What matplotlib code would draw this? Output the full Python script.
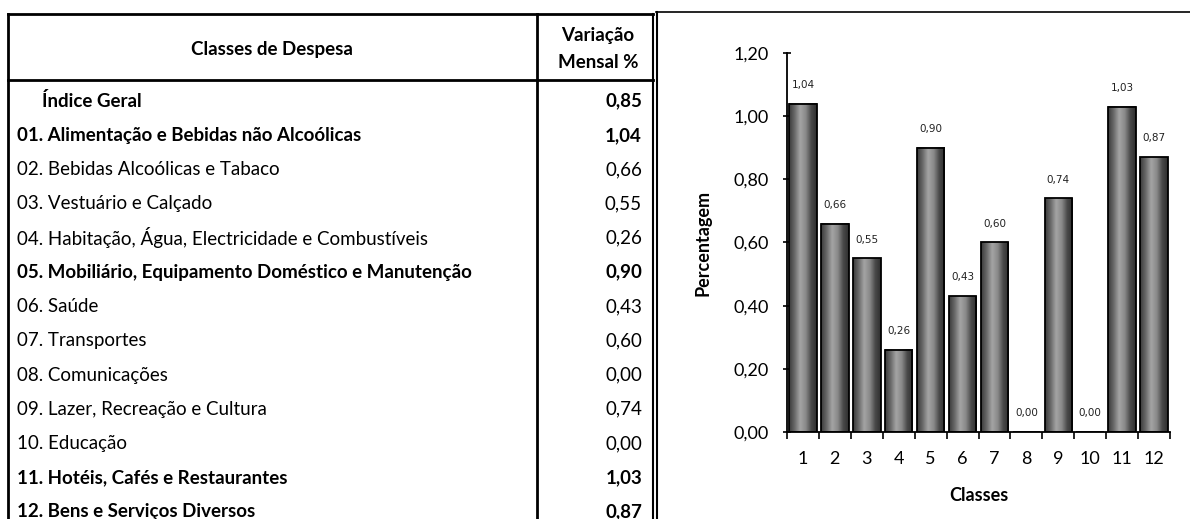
import numpy as np
import matplotlib
matplotlib.use('Agg')
import matplotlib.pyplot as plt
from matplotlib.colors import LinearSegmentedColormap

plt.rcParams['font.family'] = ['Lato', 'DejaVu Sans']

# table data
row_labels = ['Índice Geral',
              '01. Alimentação e Bebidas não Alcoólicas',
              '02. Bebidas Alcoólicas e Tabaco',
              '03. Vestuário e Calçado',
              '04. Habitação, Água, Electricidade e Combustíveis',
              '05. Mobiliário, Equipamento Doméstico e Manutenção',
              '06. Saúde',
              '07. Transportes',
              '08. Comunicações',
              '09. Lazer, Recreação e Cultura',
              '10. Educação',
              '11. Hotéis, Cafés e Restaurantes',
              '12. Bens e Serviços Diversos']
row_values = ['0,85', '1,04', '0,66', '0,55', '0,26', '0,90', '0,43',
              '0,60', '0,00', '0,74', '0,00', '1,03', '0,87']
row_bold = [True, True, False, False, False, True, False,
            False, False, False, False, True, True]

# chart data
classes = list(range(1, 13))
variation = [1.04, 0.66, 0.55, 0.26, 0.90, 0.43, 0.60, 0.00, 0.74, 0.00, 1.03, 0.87]
ytick_vals = [0.0, 0.2, 0.4, 0.6, 0.8, 1.0, 1.2]

W, H = 1190, 519
fig = plt.figure(figsize=(W / 100, H / 100), dpi=100)

# --- table drawn in pixel coordinates ---
ax0 = fig.add_axes([0, 0, 1, 1])
ax0.set_xlim(0, W)
ax0.set_ylim(H, 0)
ax0.axis('off')

lw = 2.0
ax0.plot([8, 8], [14, H], color='black', lw=lw)
ax0.plot([8, 653], [14, 14], color='black', lw=lw)
ax0.plot([8, 653], [80, 80], color='black', lw=lw)
ax0.plot([537, 537], [14, H], color='black', lw=lw)
ax0.plot([653, 653], [14, H], color='black', lw=1.5)
ax0.plot([656.5, 656.5], [12, H], color='black', lw=1.5)
# chart box
ax0.plot([656, W], [12, 12], color='black', lw=1.2)

fs = 13.5
ax0.text(272, 49, 'Classes de Despesa', ha='center', va='center',
         fontsize=fs, fontweight='bold')
ax0.text(598, 36, 'Variação', ha='center', va='center', fontsize=fs, fontweight='bold')
ax0.text(598, 62, 'Mensal %', ha='center', va='center', fontsize=fs, fontweight='bold')

y0, dy = 101, 34.25
for i, (lab, val, b) in enumerate(zip(row_labels, row_values, row_bold)):
    y = y0 + i * dy
    x = 42 if i == 0 else 17
    wt = 'bold' if b else 'normal'
    ax0.text(x, y, lab, ha='left', va='center', fontsize=fs, fontweight=wt)
    ax0.text(642, y, val, ha='right', va='center', fontsize=fs, fontweight=wt)

# --- bar chart ---
ax = fig.add_axes([787 / W, (H - 432) / H, (1170 - 787) / W, (432 - 53) / H])

bw = 0.86
cmap = LinearSegmentedColormap.from_list(
    'cyl', ['#3a3a3a', '#6a6a6a', '#a4a4a4', '#8a8a8a', '#4a4a4a', '#2e2e2e'])
grad = np.linspace(0, 1, 64).reshape(1, -1)
bars = ax.bar(classes, variation, width=bw, facecolor='none',
              edgecolor='black', linewidth=1.3, zorder=3)
for c, v in zip(classes, variation):
    if v > 0:
        ax.imshow(grad, cmap=cmap, aspect='auto', zorder=2,
                  extent=[c - bw / 2, c + bw / 2, 0, v])
ax.set_xlim(0.5, 12.5)
ax.set_ylim(0, 1.2)

for c, v in zip(classes, variation):
    ax.annotate(f'{v:.2f}'.replace('.', ','), (c, v), xytext=(0, 13.5),
                textcoords='offset points', ha='center', va='center',
                fontsize=7.5, color='#222222', family='DejaVu Sans')

for s in ['top', 'right']:
    ax.spines[s].set_visible(False)
for s in ['left', 'bottom']:
    ax.spines[s].set_linewidth(1.3)

ax.set_yticks(ytick_vals)
ax.set_yticklabels([f'{t:.2f}'.replace('.', ',') for t in ytick_vals], fontsize=13)
ax.set_xticks(np.arange(0.5, 13, 1))
ax.set_xticklabels([])
ax.set_xticks(classes, minor=True)
ax.set_xticklabels([str(c) for c in classes], minor=True, fontsize=13)
ax.tick_params(axis='x', which='major', direction='out', length=5, width=1.2)
ax.tick_params(axis='x', which='minor', length=0, pad=14)
ax.tick_params(axis='y', direction='inout', length=6, width=1.2, pad=10)

ax.set_xlabel('Classes', fontsize=13, fontweight='bold', labelpad=14)
ax.set_ylabel('Percentagem', fontsize=13, fontweight='bold', labelpad=16)

fig.savefig('out.png', dpi=100)
